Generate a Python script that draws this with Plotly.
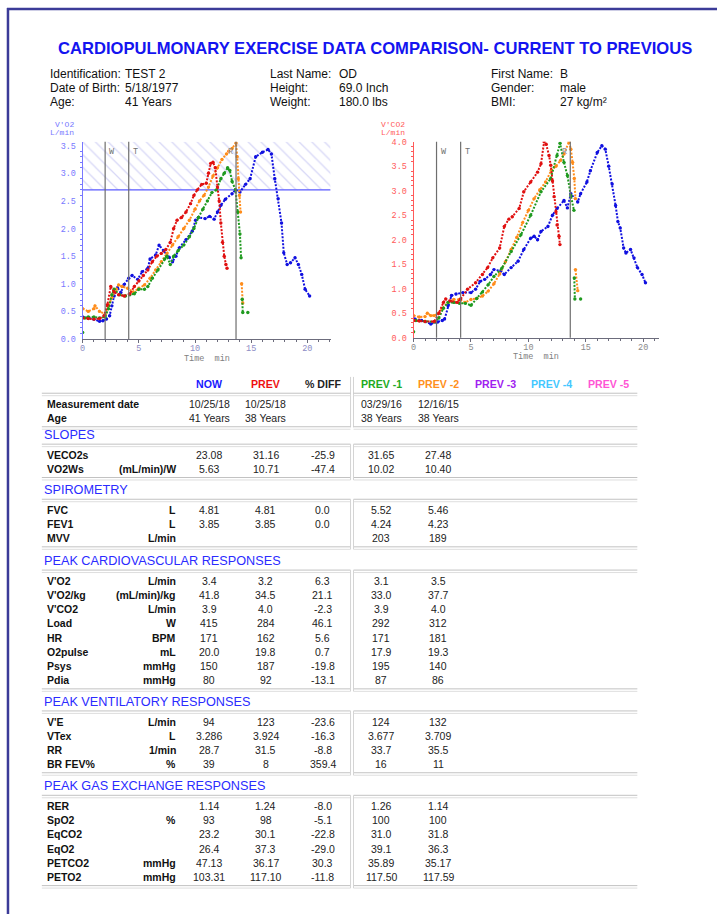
import plotly.graph_objects as go

W, H = 717, 920


def px(x):
    return x / W


def py(y):
    return 1 - y / H


# ---------------- chart data (time in min, value in L/min) ----------------
# V'O2 chart
vo2_now_t = [0, 0.5, 1.0, 1.5, 1.8, 2.1, 2.4, 2.6, 2.8, 3.1, 3.4, 3.7, 4.1, 4.4, 4.9, 5.3, 5.8, 6.0, 6.5, 6.8,
             7.2, 7.7, 8.0, 8.3, 8.6, 9.2, 9.75, 10.05, 10.3, 10.9, 11.3, 11.7, 12.0, 12.3, 12.7, 13.3, 13.6,
             14.0, 14.5, 14.9, 15.4, 16.0, 16.5, 16.8, 17.1, 17.4, 17.7, 17.9, 18.2, 18.5, 18.9, 19.2, 19.5,
             19.8, 20.2]
vo2_now = [0.40, 0.38, 0.36, 0.32, 0.33, 0.36, 0.42, 0.60, 0.78, 0.93, 0.84, 0.99, 1.10, 1.15, 1.08, 1.22,
           1.28, 1.45, 1.52, 1.70, 1.60, 1.48, 1.40, 1.50, 1.65, 1.80, 1.95, 2.15, 2.20, 2.18, 2.22, 2.17,
           2.30, 2.42, 2.53, 2.63, 2.70, 2.66, 2.80, 2.90, 3.30, 3.38, 3.43, 3.35, 2.90, 2.54, 2.10, 1.56,
           1.35, 1.38, 1.47, 1.35, 1.17, 0.90, 0.78]

vo2_prev_t = [0, 0.5, 1.0, 1.5, 1.9, 2.2, 2.5, 2.8, 3.2, 3.7, 4.2, 4.6, 5.0, 5.4, 5.8, 6.2, 6.6, 7.0, 7.4,
              7.8, 8.1, 8.4, 8.8, 9.2, 9.6, 9.9, 10.2, 10.6, 11.0, 11.2, 11.4, 11.6, 11.8, 12.0, 12.15, 12.3,
              12.45, 12.6, 12.75, 12.85]
vo2_prev = [0.38, 0.37, 0.36, 0.37, 0.42, 0.62, 0.95, 0.85, 0.80, 0.78, 0.82, 0.95, 1.05, 1.15, 1.25, 1.40,
            1.50, 1.55, 1.62, 1.75, 2.00, 2.15, 2.20, 2.30, 2.45, 2.60, 2.70, 2.80, 2.82, 3.00, 3.18, 3.20,
            3.10, 2.75, 2.50, 2.10, 1.75, 1.50, 1.35, 1.28]

vo2_prev1_t = [0, None, 0.2, 0.5, 1.0, 1.5, 2.0, 2.3, 2.6, 2.8, 3.3, 3.8, 4.2, 4.6, 5.0, 5.5, 5.8, 6.2, 6.7,
               7.3, 7.5, 7.8, 8.1, 8.5, 9.0, 9.5, 9.9, 10.3, 10.7, 11.1, 11.5, 11.9, 12.3, 12.6, 12.9, 13.1,
               13.3, 13.6, 13.8, 14.0, 14.1, None, 14.2, 14.25, None, 14.7]
vo2_prev1 = [0.12, None, 0.38, 0.40, 0.40, 0.38, 0.40, 0.55, 0.80, 0.90, 0.80, 0.78, 0.80, 0.82, 0.90, 0.90,
             0.95, 1.10, 1.25, 1.45, 1.50, 1.35, 1.50, 1.60, 1.70, 1.85, 2.00, 2.20, 2.35, 2.50, 2.65, 2.70,
             2.90, 3.00, 3.10, 3.05, 2.85, 2.70, 2.30, 1.90, 1.47, None, 0.72, 0.48, None, 0.48]

vo2_prev2_t = [0, 0.5, 1.0, 1.1, 1.5, 2.0, 2.3, 2.6, 3.0, 3.2, 3.5, 4.0, 4.5, 5.0, 5.5, 6.0, 6.5, 7.0, 7.5,
               8.0, 8.5, 9.0, 9.5, 10.0, 10.4, 10.8, 11.2, 11.6, 12.0, 12.4, 12.8, 13.0, 13.3, 13.65, 13.75,
               13.85, 13.95, 14.05, None, 14.15, 14.25]
vo2_prev2 = [0.55, 0.50, 0.55, 0.60, 0.50, 0.45, 0.60, 0.75, 0.90, 0.98, 0.95, 0.92, 0.85, 0.92, 0.98, 1.10,
             1.25, 1.40, 1.55, 1.70, 1.85, 2.00, 2.15, 2.35, 2.50, 2.60, 2.75, 2.95, 3.10, 3.25, 3.35, 3.40,
             3.45, 3.55, 3.30, 2.90, 2.60, 2.30, None, 1.00, 0.65]

# V'CO2 chart
vco2_now_t = [0.1, 0.7, 1.5, 2.1, 2.5, 2.7, 3.0, 3.3, 3.7, 4.3, 5.0, 5.4, 5.8, 6.2, 6.7, 7.0, 7.6, 7.9, 8.5,
              9.1, 9.6, 10.2, 10.5, 10.8, 11.1, 11.7, 12.1, 12.5, 13.1, 13.4, 13.7, 14.3, 14.55, 15.1, 15.4,
              16.0, 16.4, 16.7, 17.0, 17.3, 17.6, 17.8, 18.0, 18.3, 18.5, 18.9, 19.2, 19.5, 19.9, 20.2]
vco2_now = [0.38, 0.35, 0.28, 0.32, 0.35, 0.38, 0.65, 0.86, 0.89, 0.92, 0.92, 0.99, 1.15, 1.19, 1.29, 1.39,
            1.36, 1.29, 1.43, 1.56, 1.80, 2.03, 2.07, 2.00, 2.17, 2.27, 2.50, 2.64, 2.80, 2.65, 2.94, 2.77,
            2.94, 3.18, 3.41, 3.78, 3.92, 3.85, 3.50, 3.14, 2.70, 2.37, 2.24, 1.83, 1.73, 1.80, 1.63, 1.43,
            1.29, 1.12]

vco2_prev_t = [0, 0.5, 1.0, 1.8, 2.2, 2.6, 2.8, 3.2, 3.8, 4.1, 4.7, 5.4, 6.0, 6.45, 6.9, 7.5, 7.9, 8.3, 8.6,
               9.2, 9.6, 10.2, 10.8, 11.1, 11.37, 11.55, 11.8, 11.95, 12.1, 12.24, 12.4, 12.5, 12.67, 12.75]
vco2_prev = [0.35, 0.34, 0.33, 0.33, 0.50, 0.72, 0.79, 0.75, 0.72, 0.79, 0.99, 1.12, 1.29, 1.43, 1.63, 1.83,
             2.27, 2.42, 2.47, 2.64, 2.98, 3.18, 3.38, 3.55, 4.00, 3.95, 3.72, 3.52, 3.20, 2.88, 2.57, 2.30,
             2.07, 1.90]

vco2_prev1_t = [0, None, 0.2, 1.0, 1.8, 2.2, 2.6, 3.0, 3.5, 4.0, 4.5, 5.0, 5.5, 6.0, 6.5, 7.0, 7.7, 8.5, 9.35,
                10.2, 11.1, 11.95, 12.5, 12.76, 13.1, 13.4, 13.7, 13.97, None, 14.0, 14.05, None, 14.55]
vco2_prev1 = [0.12, None, 0.35, 0.33, 0.32, 0.40, 0.60, 0.72, 0.72, 0.70, 0.70, 0.66, 0.80, 0.93, 1.08, 1.25,
              1.42, 1.76, 2.10, 2.50, 2.98, 3.25, 3.72, 3.97, 3.58, 3.31, 2.90, 2.60, None, 1.22, 0.79, None,
              0.79]

vco2_prev2_t = [0, 0.5, 1.0, 1.2, 1.5, 1.8, 2.2, 2.5, 3.0, 3.5, 4.0, 4.5, 5.0, 5.5, 6.0, 6.5, 7.0, 7.5, 8.0,
                8.5, 9.0, 9.5, 10.0, 10.5, 11.0, 11.5, 12.0, 12.4, 12.8, 13.1, 13.54, 13.7, 13.85, 14.0, 14.1,
                None, 14.1, 14.3]
vco2_prev2 = [0.45, 0.42, 0.43, 0.50, 0.45, 0.45, 0.50, 0.60, 0.72, 0.78, 0.78, 0.72, 0.78, 0.80, 0.85, 0.95,
              1.10, 1.30, 1.55, 1.80, 2.05, 2.35, 2.60, 2.84, 3.02, 3.18, 3.42, 3.50, 3.62, 3.75, 4.00, 3.85,
              3.58, 3.25, 2.84, None, 1.39, 0.96]

# phase markers (min) and V'O2 threshold band
phase_names = ["W", "T", "R"]
phase_times = [2.0, 4.1, 13.65]
vo2_threshold = 2.7

# ---------------- table data ----------------
patient_left = [("Identification:", "TEST 2"), ("Date of Birth:", "5/18/1977"), ("Age:", "41 Years")]
patient_mid = [("Last Name:", "OD"), ("Height:", "69.0 Inch"), ("Weight:", "180.0 lbs")]
patient_right = [("First Name:", "B"), ("Gender:", "male"), ("BMI:", "27 kg/m²")]

columns = ["NOW", "PREV", "% DIFF", "PREV -1", "PREV -2", "PREV -3", "PREV -4", "PREV -5"]

measurement_rows = [
    ("Measurement date", "", "10/25/18", "10/25/18", "", "03/29/16", "12/16/15"),
    ("Age", "", "41 Years", "38 Years", "", "38 Years", "38 Years"),
]
slopes_rows = [
    ("VECO2s", "", "23.08", "31.16", "-25.9", "31.65", "27.48"),
    ("VO2Ws", "(mL/min)/W", "5.63", "10.71", "-47.4", "10.02", "10.40"),
]
spirometry_rows = [
    ("FVC", "L", "4.81", "4.81", "0.0", "5.52", "5.46"),
    ("FEV1", "L", "3.85", "3.85", "0.0", "4.24", "4.23"),
    ("MVV", "L/min", "", "", "", "203", "189"),
]
cardio_rows = [
    ("V'O2", "L/min", "3.4", "3.2", "6.3", "3.1", "3.5"),
    ("V'O2/kg", "(mL/min)/kg", "41.8", "34.5", "21.1", "33.0", "37.7"),
    ("V'CO2", "L/min", "3.9", "4.0", "-2.3", "3.9", "4.0"),
    ("Load", "W", "415", "284", "46.1", "292", "312"),
    ("HR", "BPM", "171", "162", "5.6", "171", "181"),
    ("O2pulse", "mL", "20.0", "19.8", "0.7", "17.9", "19.3"),
    ("Psys", "mmHg", "150", "187", "-19.8", "195", "140"),
    ("Pdia", "mmHg", "80", "92", "-13.1", "87", "86"),
]
vent_rows = [
    ("V'E", "L/min", "94", "123", "-23.6", "124", "132"),
    ("VTex", "L", "3.286", "3.924", "-16.3", "3.677", "3.709"),
    ("RR", "1/min", "28.7", "31.5", "-8.8", "33.7", "35.5"),
    ("BR FEV%", "%", "39", "8", "359.4", "16", "11"),
]
gas_rows = [
    ("RER", "", "1.14", "1.24", "-8.0", "1.26", "1.14"),
    ("SpO2", "%", "93", "98", "-5.1", "100", "100"),
    ("EqCO2", "", "23.2", "30.1", "-22.8", "31.0", "31.8"),
    ("EqO2", "", "26.4", "37.3", "-29.0", "39.1", "36.3"),
    ("PETCO2", "mmHg", "47.13", "36.17", "30.3", "35.89", "35.17"),
    ("PETO2", "mmHg", "103.31", "117.10", "-11.8", "117.50", "117.59"),
]
sections = [
    ("SLOPES", slopes_rows),
    ("SPIROMETRY", spirometry_rows),
    ("PEAK CARDIOVASCULAR RESPONSES", cardio_rows),
    ("PEAK VENTILATORY RESPONSES", vent_rows),
    ("PEAK GAS EXCHANGE RESPONSES", gas_rows),
]

# ---------------- styles / layout constants ----------------
SANS = "Liberation Sans, Arial, sans-serif"
MONO = "Liberation Mono, Courier New, monospace"
series_colors = {"NOW": "#1010e0", "PREV": "#e01010", "PREV -1": "#1f9a1f", "PREV -2": "#ff8c1a"}
column_colors = ["#1a1aff", "#ee1111", "#222222", "#22aa22", "#ff9020", "#a020f0", "#44c8ff", "#ff55d5"]
column_x = [207, 264, 321, 380, 437, 495, 551, 608]
section_title_y = [436, 491.7, 563.3, 705.7, 791]
ROW_STEP = 14.4

fig = go.Figure()
annotations = []
shapes = []


def text(x, y, s, size=10.5, color="#222222", anchor="center", family=SANS, bold=False):
    annotations.append(dict(
        x=px(x), y=py(y), xref="paper", yref="paper", text=f"<b>{s}</b>" if bold else s,
        showarrow=False, xanchor=anchor, yanchor="middle",
        font=dict(family=family, size=size, color=color),
    ))


def hline(x0, x1, y, color, width=1):
    shapes.append(dict(type="line", xref="paper", yref="paper", x0=px(x0), x1=px(x1),
                       y0=py(y), y1=py(y), line=dict(color=color, width=width)))


def vline(x, y0, y1, color="#d4d4d4"):
    shapes.append(dict(type="line", xref="paper", yref="paper", x0=px(x), x1=px(x),
                       y0=py(y0), y1=py(y1), line=dict(color=color, width=1)))


def double_line(y):
    for x0, x1 in ((39, 349), (352, 637)):
        hline(x0, x1, y, "#c2c2c2")
        hline(x0, x1, y + 2.5, "#dedede")


# ---------------- page frame, title, patient info ----------------
hline(4, 717, 5, "#3b3b98", 2.5)
shapes.append(dict(type="line", xref="paper", yref="paper", x0=px(5), x1=px(5), y0=py(4), y1=0,
                   line=dict(color="#3b3b98", width=2.5)))

text(373.5, 45, "CARDIOPULMONARY EXERCISE DATA COMPARISON- CURRENT TO PREVIOUS",
     size=16.6, color="#1414f0", bold=True)

for group, (lx, vx) in zip((patient_left, patient_mid, patient_right), ((45, 121), (266, 335), (488, 557))):
    for i, (lab, val) in enumerate(group):
        text(lx, 71 + i * 14, lab, size=12, color="#111111", anchor="left")
        text(vx, 71 + i * 14, val, size=12, color="#111111", anchor="left")


# ---------------- charts ----------------
def add_series(ts, vs, name, axis):
    fig.add_trace(go.Scatter(
        x=ts, y=vs, mode="lines+markers", name=name, connectgaps=False, hoverinfo="skip",
        line=dict(color=series_colors[name], width=2, dash="2px,1.5px"),
        marker=dict(size=3.4, color=series_colors[name]),
        xaxis="x" if axis == 1 else "x2", yaxis="y" if axis == 1 else "y2",
    ))


X1_MAX, Y1_MAX = 22.07, 3.57
X2_MAX, Y2_MAX = 21.4, 4.0

# hatched V'O2 band above threshold
fig.add_trace(go.Scatter(
    x=[0, X1_MAX, X1_MAX, 0, 0], y=[vo2_threshold, vo2_threshold, Y1_MAX, Y1_MAX, vo2_threshold],
    fill="toself", mode="lines", line=dict(width=0), hoverinfo="skip",
    fillpattern=dict(shape="\\", fgcolor="#b0b0ee", bgcolor="white", size=9, solidity=0.14),
    xaxis="x", yaxis="y",
))
fig.add_trace(go.Scatter(x=[0, X1_MAX], y=[vo2_threshold, vo2_threshold], mode="lines",
                         line=dict(color="#5a5aff", width=1.3), hoverinfo="skip", xaxis="x", yaxis="y"))

add_series(vo2_now_t, vo2_now, "NOW", 1)
add_series(vo2_prev2_t, vo2_prev2, "PREV -2", 1)
add_series(vo2_prev1_t, vo2_prev1, "PREV -1", 1)
add_series(vo2_prev_t, vo2_prev, "PREV", 1)

add_series(vco2_now_t, vco2_now, "NOW", 2)
add_series(vco2_prev2_t, vco2_prev2, "PREV -2", 2)
add_series(vco2_prev1_t, vco2_prev1, "PREV -1", 2)
add_series(vco2_prev_t, vco2_prev, "PREV", 2)

for xr, yr in (("x", "y"), ("x2", "y2")):
    for name, t in zip(phase_names, phase_times):
        shapes.append(dict(type="line", xref=xr, yref=f"{yr} domain", x0=t, x1=t, y0=0, y1=1,
                           line=dict(color="#6e6e6e", width=1.2)))
        annotations.append(dict(
            x=t, y=0.985, xref=xr, yref=f"{yr} domain", text=name, showarrow=False,
            xanchor="right" if name == "R" else "left", yanchor="top", xshift=-1 if name == "R" else 2,
            font=dict(family=MONO, size=8.5, color="#707070" if name != "R" else "#909090"),
        ))

# axis titles
text(73, 122, "V'O2", size=8, color="#7878ff", anchor="right", family=MONO)
text(73, 130, "L/min", size=8, color="#7878ff", anchor="right", family=MONO)
text(406, 122, "V'CO2", size=8, color="#ff5a5a", anchor="right", family=MONO)
text(406, 130, "L/min", size=8, color="#ff5a5a", anchor="right", family=MONO)
text(204.5, 358.5, "Time  min", size=8.5, color="#808080", family=MONO)
text(535.7, 357, "Time  min", size=8.5, color="#808080", family=MONO)


def xaxis_style(domain, xmax, tickcolor):
    return dict(
        domain=domain, range=[0, xmax], showgrid=False, zeroline=False, showline=True,
        linecolor="#6c6c7c", linewidth=1, ticks="outside", ticklen=3, tickcolor="#6c6c7c",
        tickvals=[0, 5, 10, 15, 20], minor=dict(ticks="outside", ticklen=2, dtick=1, tickcolor="#6c6c7c"),
        tickfont=dict(family=MONO, size=8.5, color=tickcolor), ticklabelstandoff=-2, fixedrange=True,
    )


def yaxis_style(domain, ymax, color, anchor):
    return dict(
        domain=domain, range=[0, ymax], showgrid=False, zeroline=False, showline=True,
        linecolor=color, linewidth=1, dtick=0.5, tickformat=".1f", ticks="", anchor=anchor,
        minor=dict(ticks="outside", ticklen=2, dtick=0.1, tickcolor=color),
        tickfont=dict(family=MONO, size=8.5, color=color), ticklabelstandoff=4, fixedrange=True,
    )


# ---------------- table ----------------
for name, x, c in zip(columns, column_x, column_colors):
    text(x, 384, name, size=10.6, color=c, bold=True)
vline(349, 377, 428)
vline(352, 377, 428)
double_line(393.5)


def draw_rows(rows, y_first):
    for i, row in enumerate(rows):
        y = y_first + i * ROW_STEP
        label, unit, *vals = row
        text(42.5, y, label, size=10.5, color="#111111", anchor="left", bold=True)
        if unit:
            text(175.7, y, unit, size=10.5, color="#111111", anchor="right", bold=True)
        for v, x in zip(vals, column_x):
            if v:
                text(x, y, v, size=10.5, color="#222222")
    return y_first + (len(rows) - 1) * ROW_STEP


last = draw_rows(measurement_rows, 404.2)
double_line(last + 8.8)

for (title, rows), ty in zip(sections, section_title_y):
    text(39, ty, title, size=12.7, color="#2b2bff", anchor="left")
    double_line(ty + 9)
    last = draw_rows(rows, ty + 19.8)
    double_line(last + 8.5)
    vline(349, ty + 9, last + 11)
    vline(352, ty + 9, last + 11)

fig.update_layout(
    width=W, height=H, margin=dict(l=0, r=0, t=0, b=0),
    paper_bgcolor="white", plot_bgcolor="white", showlegend=False,
    xaxis=xaxis_style([px(80), px(329)], X1_MAX, "#8c8cc4"),
    yaxis=yaxis_style([py(338.7), py(139.3)], Y1_MAX, "#7878ff", "x"),
    xaxis2=xaxis_style([px(412.3), px(659)], X2_MAX, "#8a8a8a") | dict(anchor="y2"),
    yaxis2=yaxis_style([py(337.3), py(139.3)], Y2_MAX, "#ff5a5a", "x2"),
    annotations=annotations, shapes=shapes,
)

# page body margin removed so the 717x920 figure fills the window exactly
fig.write_html("out.html", config={"displayModeBar": False},
               post_script="document.body.style.margin = '0';")
